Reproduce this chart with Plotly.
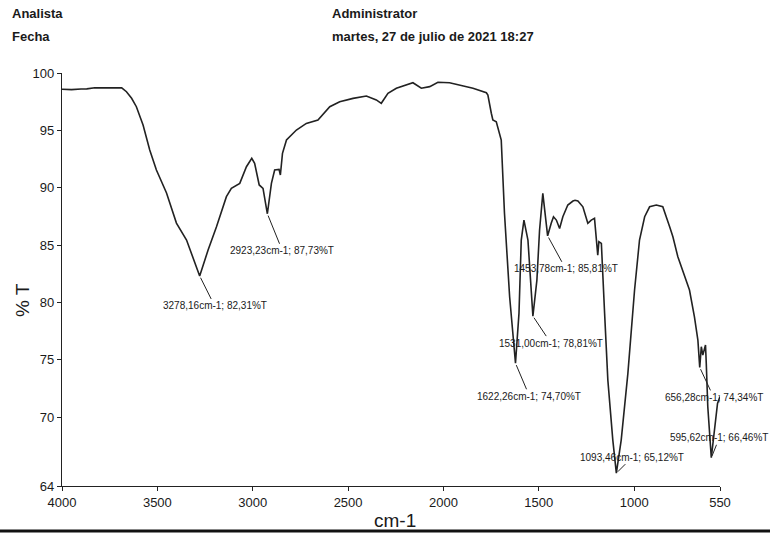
import plotly.graph_objects as go

# FTIR spectrum: wavenumber (cm-1) vs transmittance (%T)
wavenumber = [
    4000, 3950, 3900, 3870, 3828, 3760, 3687, 3662, 3635, 3610, 3575, 3540,
    3505, 3452, 3400, 3347, 3313, 3278.16, 3234, 3190, 3138, 3112, 3068,
    3033, 3005, 2990, 2966, 2946, 2923.23, 2902, 2885, 2862, 2855, 2844,
    2823, 2771, 2719, 2658, 2596, 2544, 2474, 2404, 2352, 2326, 2291, 2247,
    2160, 2116, 2072, 2029, 1968, 1845, 1775, 1767, 1749, 1741, 1723, 1706,
    1697, 1680, 1653, 1622.26, 1604, 1592, 1578, 1557, 1539, 1531.00, 1510,
    1496, 1479, 1464, 1453.78, 1435, 1423, 1408, 1391, 1374, 1348, 1321,
    1310, 1295, 1269, 1243, 1225, 1208, 1199, 1191, 1185, 1172, 1155, 1138,
    1112, 1093.46, 1068, 1033, 998, 972, 945, 919, 884, 850, 814, 797, 771,
    736, 710, 684, 666, 656.28, 648, 640, 631, 626, 622, 614, 595.62, 579,
    563, 550,
]
transmittance = [
    98.58, 98.55, 98.60, 98.62, 98.72, 98.70, 98.70, 98.37, 97.80, 97.06,
    95.47, 93.29, 91.54, 89.54, 86.92, 85.44, 83.98, 82.31, 84.57, 86.60,
    89.22, 89.95, 90.38, 91.83, 92.56, 92.13, 90.24, 89.95, 87.73, 90.38,
    91.54, 91.60, 91.11, 93.00, 94.16, 95.03, 95.61, 95.90, 97.06, 97.50,
    97.79, 97.99, 97.65, 97.36, 98.23, 98.67, 99.15, 98.67, 98.81, 99.19,
    99.15, 98.67, 98.28, 98.08, 96.49, 95.90, 95.75, 94.74, 94.16, 87.77,
    80.50, 74.70, 79.05, 85.44, 87.18, 85.44, 80.50, 78.81, 81.95, 86.31,
    89.51, 87.20, 85.81, 86.90, 87.47, 87.18, 86.45, 87.47, 88.49, 88.84,
    88.90, 88.84, 88.34, 86.90, 87.18, 87.33, 85.73, 84.13, 85.29, 85.15,
    79.05, 73.23, 68.00, 65.12, 68.00, 73.82, 81.08, 85.44, 87.47, 88.34,
    88.49, 88.34, 86.60, 85.73, 83.98, 82.24, 81.08, 78.75, 76.72, 74.34,
    76.14, 75.41, 76.14, 76.29, 74.69, 70.91, 66.46, 68.87, 71.20, 71.80,
]

# Labelled peaks
peak_wn = [3278.16, 2923.23, 1622.26, 1531.00, 1453.78, 1093.46, 656.28, 595.62]
peak_t = [82.31, 87.73, 74.70, 78.81, 85.81, 65.12, 74.34, 66.46]
label_offsets = [(15, 30), (15, 37), (14, 33), (18, 27), (18, 33), (16, -16), (14, 30), (8, -20)]

x_ticks = [4000, 3500, 3000, 2500, 2000, 1500, 1000, 550]
y_ticks = [64, 70, 75, 80, 85, 90, 95, 100]

W, H = 770, 533
L, R, T, B = 62, 50, 73, 47
pw, ph = W - L - R, H - T - B


def px(xp, yp):
    return (xp - L) / pw, (H - B - yp) / ph


def fmt(v):
    return f"{v:.2f}".replace(".", ",")


sans = "Liberation Sans, Arial"
ink = "#1a1a1a"

fig = go.Figure()
fig.add_trace(go.Scatter(
    x=wavenumber, y=transmittance, mode="lines",
    line=dict(color="#222222", width=1.6), hoverinfo="skip", showlegend=False,
))

annotations = []
for wn, t, (ax, ay) in zip(peak_wn, peak_t, label_offsets):
    annotations.append(dict(
        x=wn, y=t, xref="x", yref="y",
        text=f"{fmt(wn)}cm-1; {fmt(t)}%T",
        showarrow=True, arrowhead=0, arrowwidth=1, arrowcolor="#222222",
        ax=ax, ay=ay, standoff=2,
        font=dict(family=sans, size=10, color=ink),
    ))

# Header block
header = [
    ("Analista", 10, 13), ("Fecha", 10, 37),
    ("Administrator", 330, 13), ("martes, 27 de julio de 2021 18:27", 330, 37),
]
for txt, hx, hy in header:
    xp, yp = px(hx, hy)
    annotations.append(dict(
        x=xp, y=yp, xref="paper", yref="paper", text=f"<b>{txt}</b>", showarrow=False,
        xanchor="left", yanchor="middle",
        font=dict(family=sans, size=13, color=ink),
    ))

# Axis titles
xp, yp = px(395, 520)
annotations.append(dict(x=xp, y=yp, xref="paper", yref="paper", text="cm-1",
                        showarrow=False, xanchor="center", yanchor="middle",
                        font=dict(family=sans, size=19, color=ink)))
xp, yp = px(22, 300)
annotations.append(dict(x=xp, y=yp, xref="paper", yref="paper", text="% T",
                        showarrow=False, textangle=-90, xanchor="center", yanchor="middle",
                        font=dict(family=sans, size=19, color=ink)))

x0, yb = px(0, 531)
x1, _ = px(W, 531)

fig.update_layout(
    width=W, height=H,
    margin=dict(l=L, r=R, t=T, b=B),
    paper_bgcolor="white", plot_bgcolor="white",
    showlegend=False,
    annotations=annotations,
    shapes=[dict(type="line", xref="paper", yref="paper", x0=x0, x1=x1, y0=yb, y1=yb,
                 line=dict(color="#111111", width=3))],
    xaxis=dict(
        range=[4000, 550], tickvals=x_ticks, ticktext=[str(v) for v in x_ticks],
        showline=True, linecolor="#222222", linewidth=1.2, ticks="outside",
        ticklen=4, tickcolor="#222222", showgrid=False, zeroline=False,
        tickfont=dict(family=sans, size=13, color=ink),
    ),
    yaxis=dict(
        range=[64, 100], tickvals=y_ticks, ticktext=[str(v) for v in y_ticks],
        showline=True, linecolor="#222222", linewidth=1.2, ticks="outside",
        ticklen=4, tickcolor="#222222", showgrid=False, zeroline=False,
        tickfont=dict(family=sans, size=13, color=ink),
    ),
)

fig.write_html("out.html")
